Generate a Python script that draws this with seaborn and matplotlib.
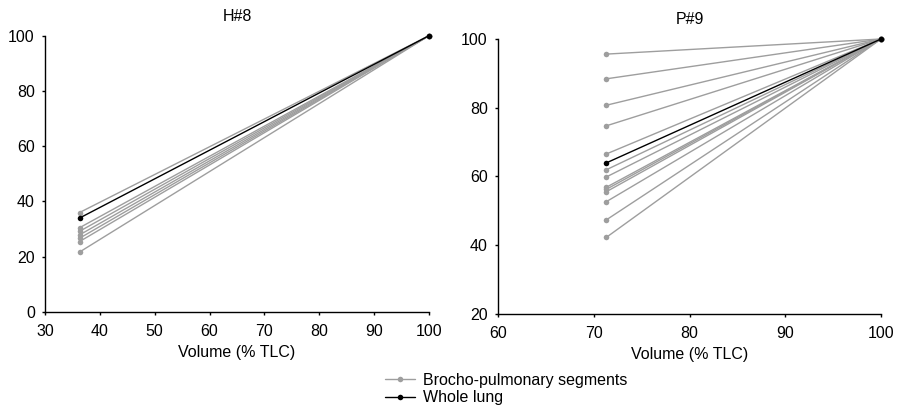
"""Segment vs whole-lung volume curves for two subjects."""
import numpy as np
import pandas as pd
import matplotlib
matplotlib.use("Agg")
import matplotlib.pyplot as plt
import seaborn as sns

# H#8 (left panel)
h8_vol = [36.3, 100]
h8_segments = [36.0, 30.5, 29.2, 27.9, 26.7, 25.5, 21.7]
h8_whole = 34.0

# P#9 (right panel)
p9_vol = [71.3, 100]
p9_segments = [95.6, 88.4, 80.7, 74.7, 66.5, 61.9, 59.8, 56.8, 56.2, 55.5, 52.6, 47.3, 42.2]
p9_whole = 63.9

seg_label = "Brocho-pulmonary segments"
whole_label = "Whole lung"


def build_frame(vol, segments, whole):
    rows = []
    for i, v in enumerate(segments):
        rows.append({"vol": vol[0], "val": v, "unit": f"s{i}", "kind": seg_label})
        rows.append({"vol": vol[1], "val": 100, "unit": f"s{i}", "kind": seg_label})
    rows.append({"vol": vol[0], "val": whole, "unit": "w", "kind": whole_label})
    rows.append({"vol": vol[1], "val": 100, "unit": "w", "kind": whole_label})
    return pd.DataFrame(rows)


sns.set_style("ticks", {"axes.edgecolor": "black", "text.color": "black",
                        "axes.labelcolor": "black", "xtick.color": "black",
                        "ytick.color": "black"})
plt.rcParams["font.family"] = ["Liberation Sans", "DejaVu Sans"]
palette = {seg_label: "#9e9e9e", whole_label: "black"}
fs = 11.5

fig = plt.figure(figsize=(9, 4.08), dpi=100)
ax1 = fig.add_axes([45 / 900, 1 - 312 / 408, 384 / 900, 276.3 / 408])
ax2 = fig.add_axes([498 / 900, 1 - 313.7 / 408, 383 / 900, 274.7 / 408])

panels = [
    (ax1, build_frame(h8_vol, h8_segments, h8_whole), "H#8", (30, 100), (0, 100)),
    (ax2, build_frame(p9_vol, p9_segments, p9_whole), "P#9", (60, 100), (20, 100)),
]

for ax, df, title, xlim, ylim in panels:
    sns.lineplot(data=df, x="vol", y="val", hue="kind", units="unit", estimator=None,
                 palette=palette, hue_order=[seg_label, whole_label], marker="o",
                 markersize=4, markeredgewidth=0, linewidth=1, ax=ax, legend=False,
                 clip_on=False)
    ax.set_xlim(*xlim)
    ax.set_ylim(*ylim)
    ax.set_xticks(np.arange(xlim[0], xlim[1] + 1, 10))
    ax.set_yticks(np.arange(ylim[0], ylim[1] + 1, 20))
    ax.set_title(title, fontsize=fs, pad=10.8, color="black")
    ax.set_xlabel("Volume (% TLC)", fontsize=fs, labelpad=4.5)
    ax.set_ylabel("")
    ax.tick_params(labelsize=fs, length=2.5, width=1, direction="out", colors="black")
    ax.tick_params(axis="x", pad=6)
    ax.tick_params(axis="y", pad=4.8)
    for s in ["left", "bottom"]:
        ax.spines[s].set_linewidth(1)
        ax.spines[s].set_color("black")
    sns.despine(ax=ax)

handles = [
    plt.Line2D([], [], color=palette[seg_label], marker="o", markersize=4,
               markeredgewidth=0, linewidth=1, label=seg_label),
    plt.Line2D([], [], color=palette[whole_label], marker="o", markersize=4,
               markeredgewidth=0, linewidth=1, label=whole_label),
]
fig.legend(handles=handles, loc="center left", bbox_to_anchor=(385 / 900, 1 - 389 / 408),
           frameon=False, fontsize=fs, handlelength=1.9, handletextpad=0.5,
           labelspacing=0.15, borderaxespad=0, borderpad=0)

fig.savefig("out.png", dpi=100)
